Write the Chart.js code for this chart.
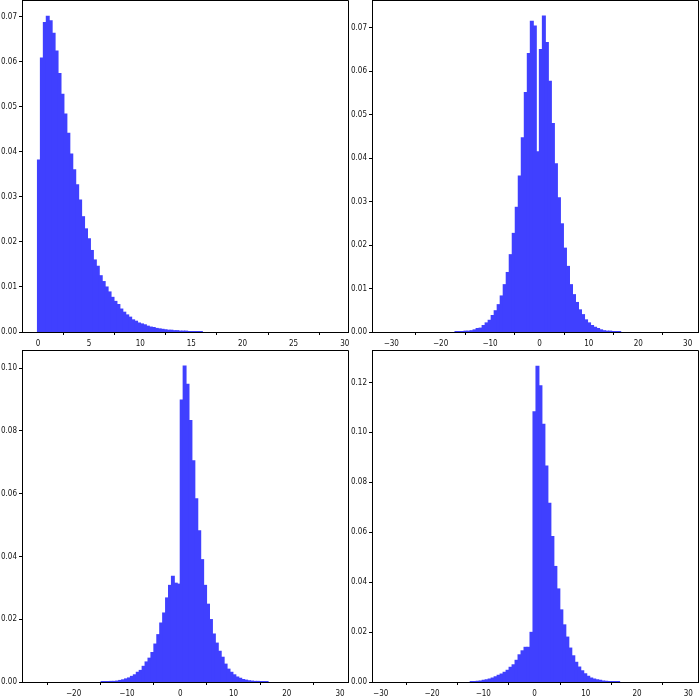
<!DOCTYPE html>
<html>
<head>
<meta charset="utf-8">
<script src="https://cdn.jsdelivr.net/npm/chart.js@4.4.1/dist/chart.umd.min.js"></script>
<style>
  body { margin: 0; background: #fff; }
  .panel { position: absolute; width: 350px; height: 350px; }
</style>
</head>
<body>
<div class="panel" style="left:0;top:0"><canvas id="c1" width="350" height="350"></canvas></div>
<div class="panel" style="left:350px;top:0"><canvas id="c2" width="350" height="350"></canvas></div>
<div class="panel" style="left:0;top:350px"><canvas id="c3" width="350" height="350"></canvas></div>
<div class="panel" style="left:350px;top:350px"><canvas id="c4" width="350" height="350"></canvas></div>
<script>
// panel 1 - skewed histogram (density per bin)
var binStart1 = -0.05, binWidth1 = 0.288;
var density1 = [0.0382, 0.0608, 0.0687, 0.0701, 0.0691, 0.0663, 0.0624, 0.0574, 0.0528, 0.0484,
  0.0441, 0.0395, 0.0360, 0.0327, 0.0293, 0.0256, 0.0229, 0.0207, 0.0181, 0.0160,
  0.0146, 0.0125, 0.0112, 0.0100, 0.0089, 0.0077, 0.0068, 0.0061, 0.0051, 0.0044,
  0.0038, 0.0033, 0.0027, 0.0024, 0.0020, 0.0018, 0.0016, 0.0013, 0.0011, 0.0010,
  0.0008, 0.0007, 0.0006, 0.0005, 0.0004, 0.0004, 0.0003, 0.0003, 0.0002, 0.0002,
  0.0002, 0.0001, 0.0001, 0.0001, 0.0001, 0.00005];
var xRange1 = [-1.56, 30.32], yRange1 = [0, 0.0737];
var xTicks1 = [0, 5, 10, 15, 20, 25, 30];
var yTicks1 = [0, 0.01, 0.02, 0.03, 0.04, 0.05, 0.06, 0.07];

// panel 2 - two-peaked
var binStart2 = -17.1, binWidth2 = 0.61;
var density2 = [0.00005, 0.0001, 0.0001, 0.0002, 0.0002, 0.0003, 0.0005, 0.0008, 0.0009, 0.0015,
  0.0021, 0.0027, 0.0038, 0.0049, 0.0063, 0.0083, 0.0109, 0.0137, 0.0178, 0.0227,
  0.0287, 0.0359, 0.0447, 0.0551, 0.0641, 0.0715, 0.0704, 0.0415, 0.0650, 0.0727,
  0.0666, 0.0577, 0.0480, 0.0387, 0.0309, 0.0249, 0.0193, 0.0151, 0.0109, 0.0086,
  0.0068, 0.0051, 0.0040, 0.0028, 0.0021, 0.0015, 0.0011, 0.0008, 0.0005, 0.0003,
  0.0002, 0.0002, 0.0001, 0.0001, 0.00005];
var xRange2 = [-33.9, 32.1], yRange2 = [0, 0.0764];
var xTicks2 = [-30, -20, -10, 0, 10, 20, 30];
var yTicks2 = [0, 0.01, 0.02, 0.03, 0.04, 0.05, 0.06, 0.07];

// panel 3
var binStart3 = -14.85, binWidth3 = 0.55;
var density3 = [0.00005, 0.0001, 0.0001, 0.0002, 0.0002, 0.0003, 0.0005, 0.0007, 0.0010, 0.0013,
  0.0018, 0.0023, 0.0031, 0.0037, 0.0050, 0.0064, 0.0076, 0.0094, 0.0121, 0.0151,
  0.0188, 0.0220, 0.0268, 0.0308, 0.0337, 0.0315, 0.0312,
  0.0899, 0.1007, 0.0949, 0.0833, 0.0705, 0.0584, 0.0482, 0.0390, 0.0308, 0.0248,
  0.0199, 0.0153, 0.0124, 0.0098, 0.0079, 0.0057, 0.0041, 0.0031, 0.0023, 0.0016,
  0.0012, 0.0008, 0.0006, 0.0004, 0.0003, 0.0002, 0.0002, 0.0001, 0.0001, 0.00005];
var xRange3 = [-29.7, 31.5], yRange3 = [0, 0.1058];
var xTicks3 = [-20, -10, 0, 10, 20, 30];
var yTicks3 = [0, 0.02, 0.04, 0.06, 0.08, 0.10];

// panel 4
var binStart4 = -12.54, binWidth4 = 0.583;
var density4 = [0.0001, 0.0001, 0.0003, 0.0004, 0.0007, 0.0009, 0.0012, 0.0016, 0.0021, 0.0027,
  0.0032, 0.0039, 0.0047, 0.0059, 0.0069, 0.0087, 0.0109, 0.0125, 0.0139, 0.0139, 0.0199,
  0.1083, 0.1265, 0.1187, 0.1033, 0.0865, 0.0716, 0.0583, 0.0463, 0.0373, 0.0289,
  0.0229, 0.0180, 0.0136, 0.0105, 0.0079, 0.0060, 0.0045, 0.0033, 0.0023, 0.0016,
  0.0012, 0.0009, 0.0007, 0.0004, 0.0003, 0.0002, 0.0001, 0.0001, 0.00005];
var xRange4 = [-31.7, 31.9], yRange4 = [0, 0.133];
var xTicks4 = [-30, -20, -10, 0, 10, 20, 30];
var yTicks4 = [0, 0.02, 0.04, 0.06, 0.08, 0.10, 0.12];

Chart.defaults.font.family = "'DejaVu Sans Condensed', 'DejaVu Sans', sans-serif";
Chart.defaults.font.size = 8;
Chart.defaults.color = '#111';

// top and right spines
var framePlugin = {
  id: 'frame',
  afterDraw: function (chart) {
    var a = chart.chartArea, ctx = chart.ctx;
    ctx.save();
    ctx.strokeStyle = '#000';
    ctx.lineWidth = 1;
    ctx.beginPath();
    ctx.moveTo(a.left, a.top + 0.5);
    ctx.lineTo(a.right + 0.5, a.top + 0.5);
    ctx.lineTo(a.right + 0.5, a.bottom);
    ctx.stroke();
    ctx.restore();
  }
};

function toBins(start, w, vals) {
  return vals.map(function (v, i) { return { x: start + (i + 0.5) * w, y: v }; });
}

function fmtX(v) {
  return v < 0 ? '\u2212' + Math.abs(v) : String(v);
}

function drawHist(id, start, w, vals, xr, yr, xt, yt) {
  new Chart(document.getElementById(id), {
    type: 'bar',
    data: {
      datasets: [{
        data: toBins(start, w, vals),
        backgroundColor: '#4040ff',
        borderWidth: 0,
        barPercentage: 1,
        categoryPercentage: 1,
        inflateAmount: 0.5   // overlap neighbours a little so no seams show
      }]
    },
    options: {
      responsive: false,
      animation: false,
      layout: { padding: { left: 0, right: 2, top: 0, bottom: 0 } },
      plugins: { legend: { display: false }, tooltip: { enabled: false } },
      scales: {
        x: {
          type: 'linear',
          offset: false,
          min: xr[0], max: xr[1],
          afterBuildTicks: function (s) { s.ticks = xt.map(function (v) { return { value: v }; }); },
          afterFit: function (s) { s.height = 18; s.paddingLeft = 0; s.paddingRight = 0; },
          ticks: { autoSkip: false, maxRotation: 0, padding: 4, callback: fmtX },
          grid: { drawOnChartArea: false, tickLength: 3, tickColor: '#000' },
          border: { color: '#000' }
        },
        y: {
          min: yr[0], max: yr[1],
          afterBuildTicks: function (s) { s.ticks = yt.map(function (v) { return { value: v }; }); },
          afterFit: function (s) { s.width = 22; s.paddingTop = 0; s.paddingBottom = 0; },
          ticks: { padding: 2, callback: function (v) { return v.toFixed(2); } },
          grid: { drawOnChartArea: false, tickLength: 3, tickColor: '#000' },
          border: { color: '#000' }
        }
      }
    },
    plugins: [framePlugin]
  });
}

drawHist('c1', binStart1, binWidth1, density1, xRange1, yRange1, xTicks1, yTicks1);
drawHist('c2', binStart2, binWidth2, density2, xRange2, yRange2, xTicks2, yTicks2);
drawHist('c3', binStart3, binWidth3, density3, xRange3, yRange3, xTicks3, yTicks3);
drawHist('c4', binStart4, binWidth4, density4, xRange4, yRange4, xTicks4, yTicks4);
</script>
</body>
</html>
